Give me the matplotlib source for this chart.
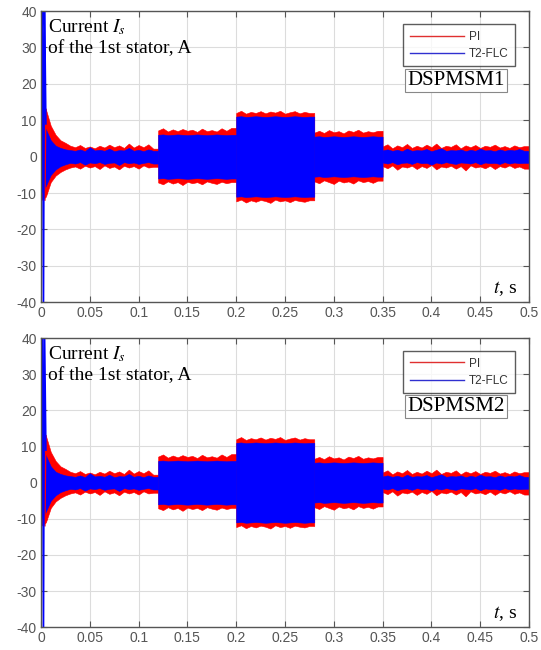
import numpy as np
import matplotlib
matplotlib.use("Agg")
import matplotlib.pyplot as plt

plt.rcParams["mathtext.fontset"] = "stix"
plt.rcParams["axes.unicode_minus"] = False

# envelope sample times (every 5 ms) and load-step boundaries, s
t_env = np.arange(101) * 0.005
seg_edges = [0.0, 0.12, 0.2, 0.28, 0.35, 0.5]

# PI current envelope, A
pi_hi = [15, 13, 8.5, 6, 4.5, 3.8, 3, 2.6, 3.2, 2.4, 2.8, 2.3, 3.0, 2.5, 3.3, 2.6, 3.1, 2.4, 3.6, 2.5,
         3.2, 2.6, 3.4, 2.2,
         7.2, 7.8, 6.9, 7.5, 7.0, 7.6, 7.1, 7.4, 6.8, 7.7, 7.0, 7.3, 6.9, 7.8, 7.1, 7.9,
         12.0, 12.6, 11.8, 12.3, 12.0, 12.5, 11.9, 12.4, 12.1, 12.6, 11.8, 12.2, 12.5, 11.9, 12.3, 12.0,
         6.6, 7.1, 6.5, 7.3, 6.7, 7.0, 6.4, 7.2, 6.8, 7.4, 6.6, 7.0, 6.7, 7.1,
         2.8, 3.4, 2.3, 3.1, 2.6, 3.5, 2.4, 3.0, 2.5, 3.3, 2.6, 3.6, 2.4, 3.0, 2.7, 3.4, 2.3, 3.1, 2.6, 3.2,
         2.4, 3.0, 2.7, 3.3, 2.5, 2.9, 2.4, 3.1, 2.6, 2.9, 2.5]
pi_lo = [-12, -11, -7, -5.2, -4.2, -3.5, -3.0, -2.7, -3.3, -2.5, -3.0, -2.6, -3.4, -2.4, -3.1, -2.7,
         -3.5, -2.5, -3.0, -2.6, -3.3, -2.4, -3.0, -2.8,
         -7.1, -7.6, -6.8, -7.4, -7.0, -7.8, -6.9, -7.3, -7.0, -7.6, -6.8, -7.2, -7.5, -6.9, -7.3, -7.0,
         -12.3, -11.8, -12.6, -12.0, -12.4, -11.9, -12.2, -12.7, -11.8, -12.3, -12.0, -12.5, -11.9, -12.2,
         -12.4, -12.0,
         -6.8, -7.3, -6.5, -7.0, -7.5, -6.6, -7.1, -6.8, -7.4, -6.5, -7.0, -6.7, -7.2, -6.6,
         -2.6, -3.2, -2.4, -3.6, -2.7, -3.0, -2.5, -3.4, -2.6, -3.1, -2.3, -3.5, -2.7, -3.0, -2.5, -3.3,
         -2.6, -3.8, -2.4, -3.0, -2.7, -3.2, -2.5, -3.4, -2.6, -3.0, -2.4, -3.1, -2.7, -3.3, -2.5]

# T2-FLC current envelope, A
flc_hi = [9, 7.5, 4.5, 3.0, 2.4, 2.0,
          1.8, 1.6, 2.0, 1.5, 2.6, 1.7, 1.9, 1.6, 2.2, 1.5, 1.8, 1.7, 2.4, 1.6, 1.9, 1.5, 2.0, 1.6,
          6.0, 6.1, 5.9, 6.0, 6.1, 6.0, 5.9, 6.0, 6.1, 6.0, 5.9, 6.0, 6.1, 6.0, 5.9, 6.0,
          11.0, 11.1, 10.9, 11.0, 11.1, 11.0, 10.9, 11.0, 11.1, 11.0, 10.9, 11.0, 11.1, 11.0, 10.9, 11.0,
          5.5, 5.6, 5.4, 5.5, 5.6, 5.5, 5.4, 5.5, 5.6, 5.5, 5.4, 5.5, 5.6, 5.5,
          1.7, 2.0, 1.6, 1.9, 1.5, 2.2, 1.6, 1.8, 1.7, 2.1, 1.5, 1.9, 2.3, 1.6, 1.8, 1.7,
          2.0, 1.5, 1.9, 1.6, 2.2, 1.7, 1.8, 1.5, 2.0, 1.6, 1.9, 1.7, 2.1, 1.6, 1.8]
flc_lo = [-10, -8, -5, -3.5, -2.6, -2.1,
          -1.7, -1.9, -1.5, -2.2, -1.6, -1.8, -1.5, -2.0, -1.7, -1.6, -2.3, -1.5, -1.8, -1.6, -2.0,
          -1.7, -1.5, -1.9,
          -6.0, -5.9, -6.1, -6.0, -5.9, -6.0, -6.1, -6.0, -5.9, -6.0, -6.1, -6.0, -5.9, -6.0, -6.1, -6.0,
          -11.0, -10.9, -11.1, -11.0, -10.9, -11.0, -11.1, -11.0, -10.9, -11.0, -11.1, -11.0, -10.9,
          -11.0, -11.1, -11.0,
          -5.5, -5.4, -5.6, -5.5, -5.4, -5.5, -5.6, -5.5, -5.4, -5.5, -5.6, -5.5, -5.4, -5.5,
          -1.6, -1.9, -1.5, -2.1, -1.7, -1.6, -2.0, -1.5, -1.8, -1.7, -2.2, -1.6, -1.9, -1.5, -1.8,
          -2.0, -1.6, -1.7, -1.9, -1.5, -2.1, -1.6, -1.8, -1.7, -2.0, -1.5, -1.9, -1.6, -1.8, -1.7, -1.6]

# start-up transient spikes
pi_spike_t = [0.0, 0.0025, 0.004, 0.005]
pi_spike_i = [0.0, 19.0, -12.0, 13.0]
flc_spike_t = [0.0, 0.0015, 0.0025, 0.0035, 0.005]
flc_spike_i = [0.0, 45.0, -45.0, 45.0, 9.0]

panels = ["DSPMSM1", "DSPMSM2"]
x_ticks = [0, 0.05, 0.1, 0.15, 0.2, 0.25, 0.3, 0.35, 0.4, 0.45, 0.5]
x_ticklabels = ["0", "0.05", "0.1", "0.15", "0.2", "0.25", "0.3", "0.35", "0.4", "0.45", "0.5"]
y_ticks = [-40, -30, -20, -10, 0, 10, 20, 30, 40]

RED = "#ff0000"
BLUE = "#0000ff"
GRAY = "#555555"


def band(ax, hi, lo, color):
    hi = np.asarray(hi, float)
    lo = np.asarray(lo, float)
    for a, b in zip(seg_edges[:-1], seg_edges[1:]):
        m = (t_env >= a - 1e-9) & (t_env < b - 1e-9)
        tt = np.append(t_env[m], b)
        ax.fill_between(tt, np.append(lo[m], lo[m][-1]), np.append(hi[m], hi[m][-1]),
                        color=color, lw=0.4, edgecolor=color)


fig = plt.figure(figsize=(5.41, 6.5), dpi=100)
boxes = [[0.0758, 0.535, 0.902, 0.448], [0.0758, 0.035, 0.902, 0.445]]

for box, name in zip(boxes, panels):
    ax = fig.add_axes(box)
    band(ax, pi_hi, pi_lo, RED)
    ax.plot(pi_spike_t, pi_spike_i, color=RED, lw=1)
    band(ax, flc_hi, flc_lo, BLUE)
    ax.plot(flc_spike_t, flc_spike_i, color=BLUE, lw=1.2)
    # legend proxies
    ax.plot([], [], color="#e03030", lw=1, label="PI")
    ax.plot([], [], color="#3030d0", lw=1, label="T2-FLC")

    ax.set_xlim(0, 0.5)
    ax.set_ylim(-40, 40)
    ax.set_xticks(x_ticks)
    ax.set_xticklabels(x_ticklabels)
    ax.set_yticks(y_ticks)
    ax.grid(True, color="#dcdcdc", lw=0.8)
    ax.set_axisbelow(True)
    ax.tick_params(direction="in", top=True, right=True, length=4, width=0.8,
                   colors=GRAY, labelsize=10, pad=3)
    for lab in ax.get_xticklabels() + ax.get_yticklabels():
        lab.set_family("Liberation Sans")
    for s in ax.spines.values():
        s.set_color(GRAY)
        s.set_linewidth(1.0)

    leg = ax.legend(loc="upper right", bbox_to_anchor=(0.971, 0.955),
                    prop={"family": "Liberation Sans", "size": 8.5},
                    frameon=True, fancybox=False, edgecolor="#333333", handlelength=4.6,
                    borderpad=0.55, labelspacing=0.45, handletextpad=0.4, borderaxespad=0)
    leg.get_frame().set_linewidth(1.0)
    for txt in leg.get_texts():
        txt.set_color("#333333")

    ax.text(0.85, 0.762, name, transform=ax.transAxes, ha="center", va="center",
            family="Liberation Serif", fontsize=15,
            bbox=dict(boxstyle="square,pad=0.1", fc="white", ec="#888888", lw=0.8))
    ax.text(0.014, 0.928, r"Current $I_s$", transform=ax.transAxes, ha="left",
            va="baseline", family="Liberation Serif", fontsize=14)
    ax.text(0.014, 0.856, "of the 1st stator, A", transform=ax.transAxes, ha="left",
            va="baseline", family="Liberation Serif", fontsize=14)
    ax.text(0.975, 0.03, r"$t$, s", transform=ax.transAxes, ha="right", va="baseline",
            family="Liberation Serif", fontsize=14)

fig.savefig("out.png", dpi=100)
